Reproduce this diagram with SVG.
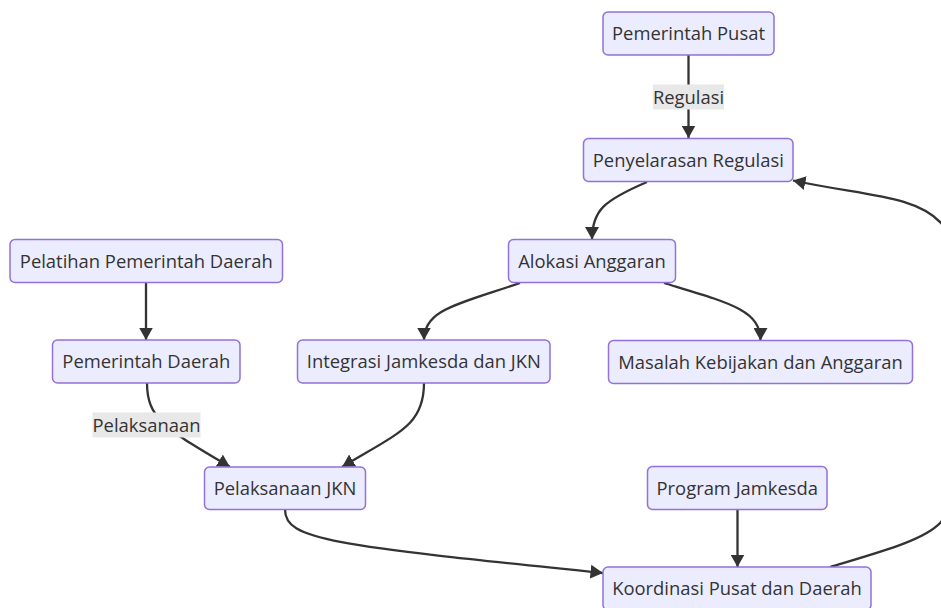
<svg xmlns="http://www.w3.org/2000/svg" width="941" height="608" viewBox="0 0 941 608">
<style>
.node rect{fill:#ECECFF;stroke:#9370DB;stroke-width:1.5px;}
text{font-family:"Open Sans","Liberation Sans",sans-serif;font-size:18.4px;fill:#333;text-anchor:middle;dominant-baseline:central;}
.edge{fill:none;stroke:#333;stroke-width:2.3px;marker-end:url(#arrow);}
.lbl rect{fill:#e8e8e8;stroke:none;}
</style>
<defs>
<marker id="arrow" viewBox="0 0 10 10" refX="10" refY="5" markerUnits="userSpaceOnUse" markerWidth="12.5" markerHeight="14" orient="auto" preserveAspectRatio="none">
<path d="M0,0 L10,5 L0,10 z" fill="#333"/>
</marker>
</defs>
<rect width="941" height="608" fill="#ffffff"/>
<g id="edges">
<path class="edge" d="M688.5,55 L688.5,138"/>
<path class="edge" d="M647,182 C605,200 592,210 592,239.5"/>
<path class="edge" d="M520,283 C455,305 424,310 424,340"/>
<path class="edge" d="M664,283 C730,303 760.5,310 760.5,340.5"/>
<path class="edge" d="M146,283 L146,340"/>
<path class="edge" d="M147,383 C147,420 168,430 230,467"/>
<path class="edge" d="M424,383 C424,425 400,432 342,467"/>
<path class="edge" d="M285,509.5 C285,540 330,545 603,573"/>
<path class="edge" d="M737.5,509.5 L737.5,567"/>
<path class="edge" d="M830,567 C880,552 925,540 941,522 C975,480 975,265 941,223 C915,195 865,196 793,180.5"/>
<g class="lbl" id="label-regulasi"><rect x="653" y="84.5" width="71" height="25"/><text x="688.5" y="96">Regulasi</text></g>
<g class="lbl" id="label-pelaksanaan"><rect x="92.5" y="412.5" width="108" height="25"/><text x="146.5" y="424">Pelaksanaan</text></g>
</g>
<g id="n-pemerintah-pusat" class="node"><rect x="603" y="12" width="171" height="43" rx="5"/><text x="688.5" y="32.5">Pemerintah Pusat</text></g>
<g id="n-penyelarasan" class="node"><rect x="583.5" y="138.5" width="209.5" height="43" rx="5"/><text x="688.3" y="159">Penyelarasan Regulasi</text></g>
<g id="n-alokasi" class="node"><rect x="508.5" y="239.5" width="167" height="43" rx="5"/><text x="592" y="260">Alokasi Anggaran</text></g>
<g id="n-pelatihan" class="node"><rect x="10" y="239.5" width="272.5" height="43" rx="5"/><text x="146.3" y="260">Pelatihan Pemerintah Daerah</text></g>
<g id="n-pemerintah-daerah" class="node"><rect x="52.5" y="340" width="187.5" height="43" rx="5"/><text x="146.3" y="360.5">Pemerintah Daerah</text></g>
<g id="n-integrasi" class="node"><rect x="297.5" y="340" width="252.5" height="43" rx="5"/><text x="423.8" y="360.5">Integrasi Jamkesda dan JKN</text></g>
<g id="n-masalah" class="node"><rect x="608.5" y="340.5" width="304" height="43" rx="5"/><text x="760.5" y="361">Masalah Kebijakan dan Anggaran</text></g>
<g id="n-pelaksanaan-jkn" class="node"><rect x="204.5" y="467" width="161" height="42.5" rx="5"/><text x="285" y="487">Pelaksanaan JKN</text></g>
<g id="n-program-jamkesda" class="node"><rect x="647.5" y="466.5" width="179.5" height="43" rx="5"/><text x="737.3" y="487">Program Jamkesda</text></g>
<g id="n-koordinasi" class="node"><rect x="603" y="567" width="268" height="43" rx="5"/><text x="737" y="587.5">Koordinasi Pusat dan Daerah</text></g>
</svg>
